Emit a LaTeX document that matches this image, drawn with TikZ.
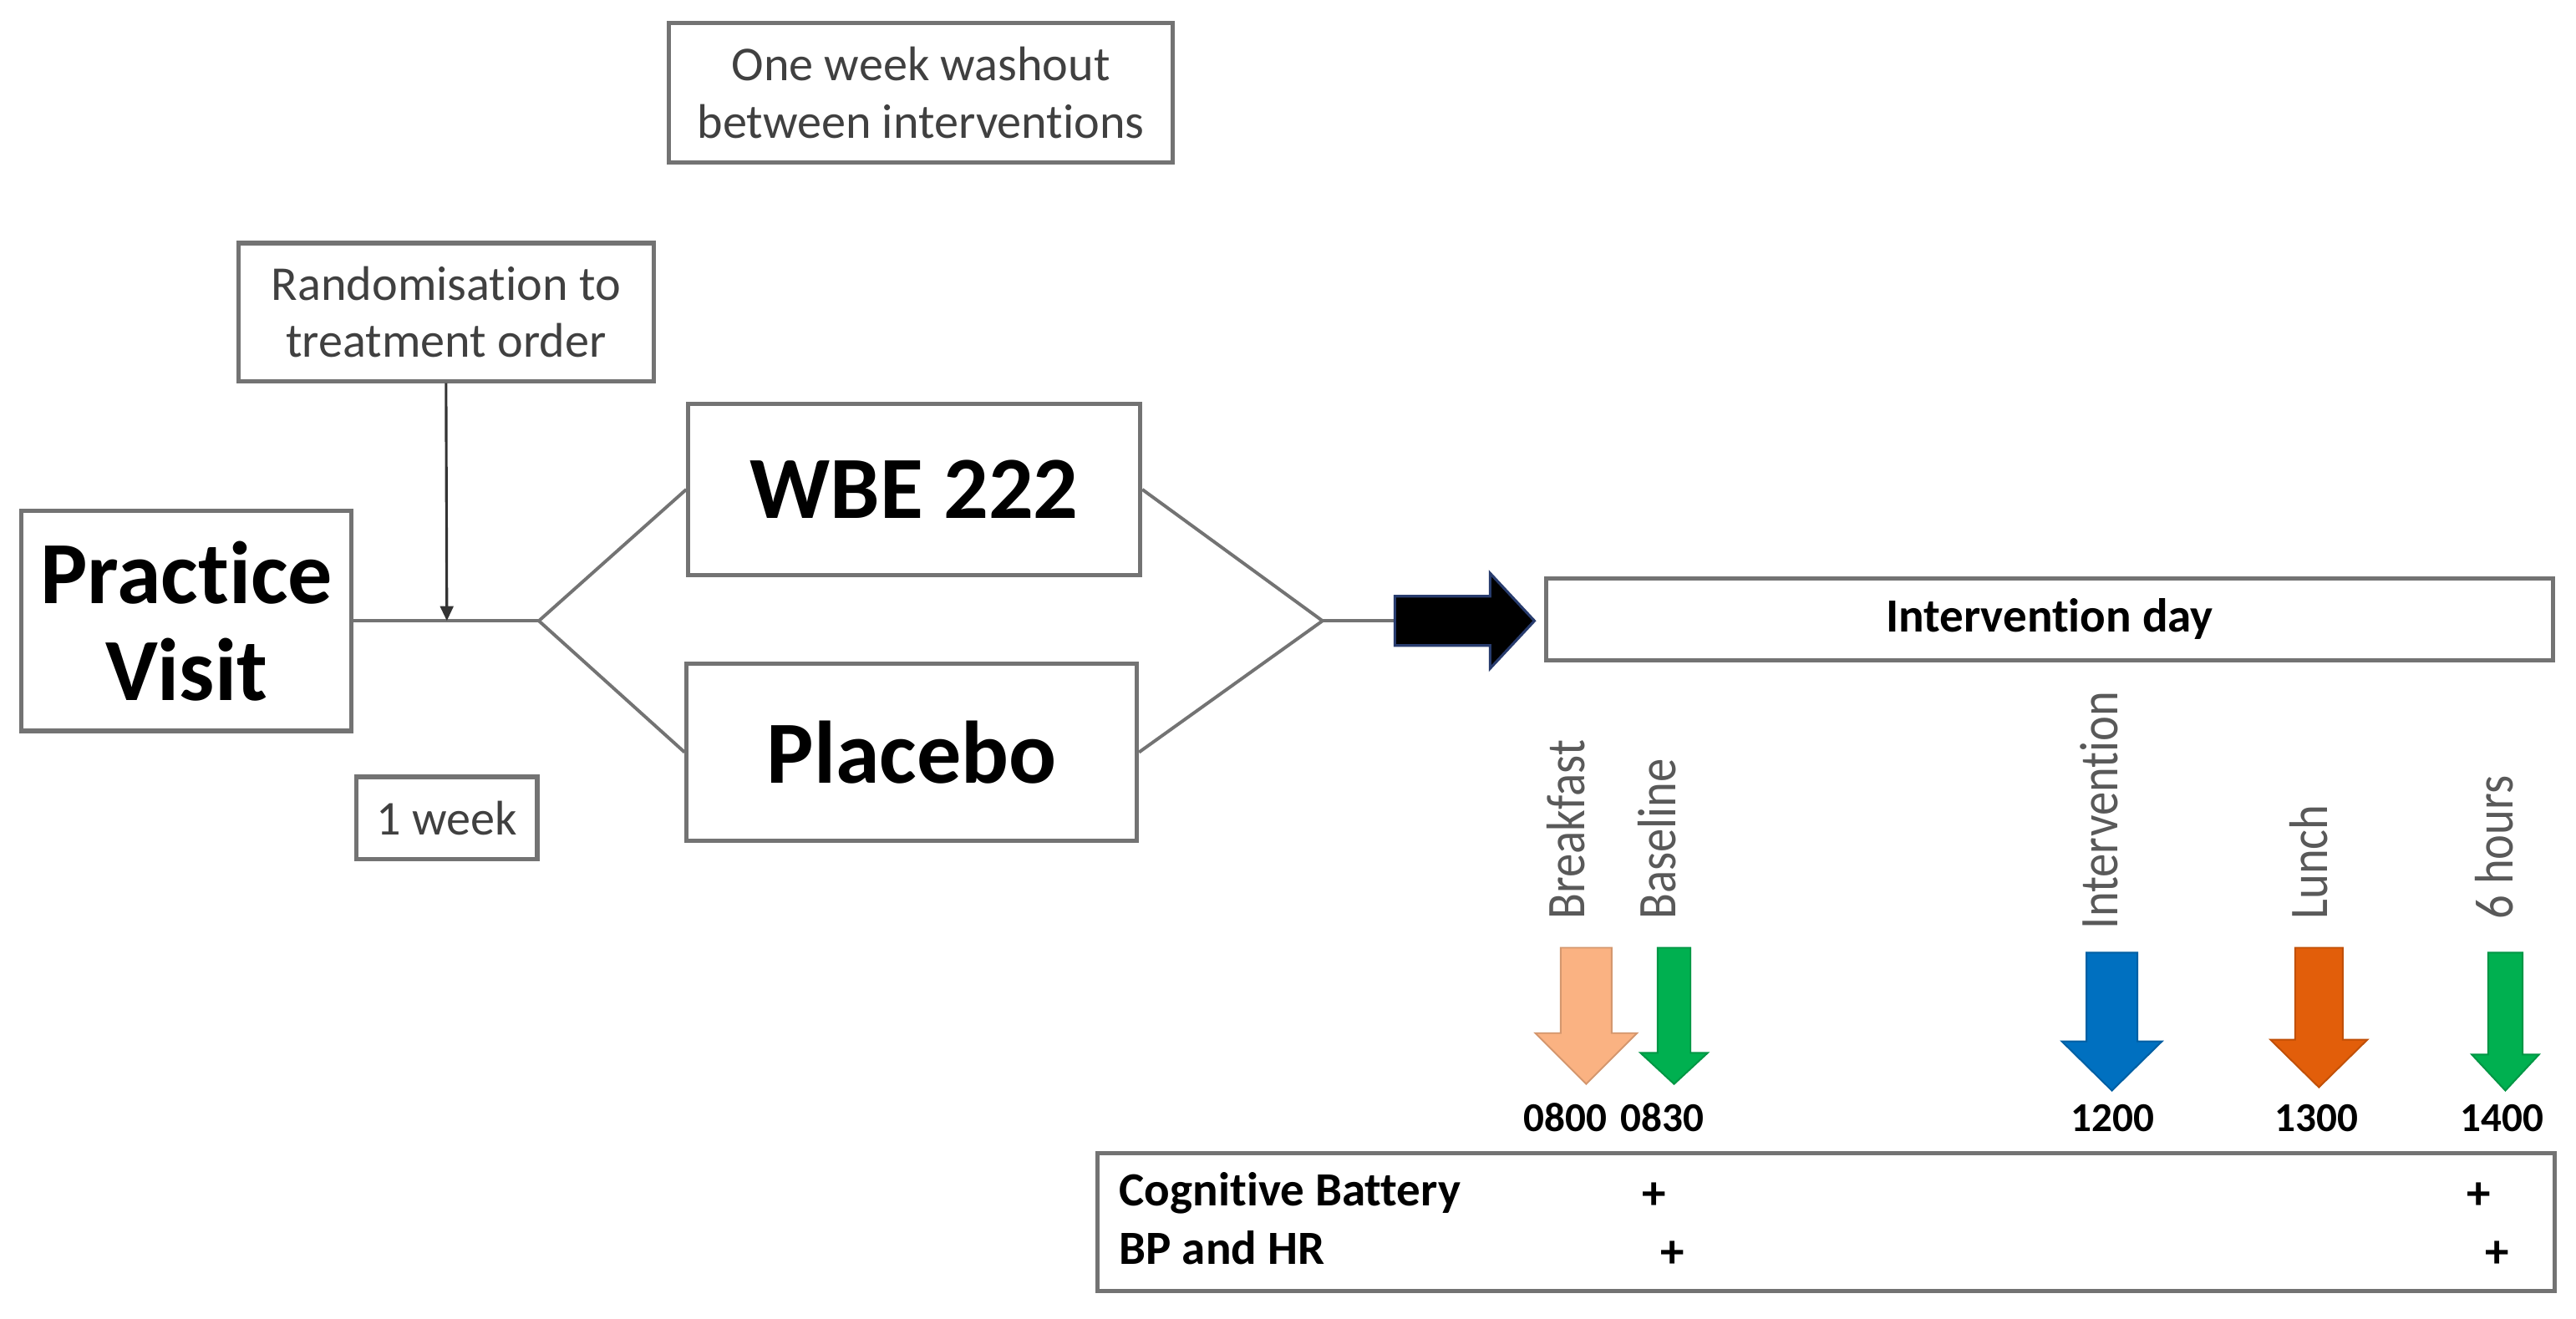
\documentclass[tikz,border=0pt]{standalone}
\usepackage{fontspec}
\setmainfont{Carlito}[Ligatures=NoCommon]
\usetikzlibrary{arrows.meta}
\definecolor{peach}{RGB}{250,178,130}
\definecolor{mygreen}{RGB}{0,176,80}
\definecolor{myblue}{RGB}{0,112,192}
\definecolor{myorange}{RGB}{226,94,10}
\definecolor{boxline}{RGB}{115,115,115}
\definecolor{txtgray}{RGB}{64,64,64}
\definecolor{lblgray}{RGB}{89,89,89}
\definecolor{arredge}{RGB}{40,60,110}
\tikzset{
  frame/.style={draw=boxline, line width=1.3pt, inner sep=0pt, align=center},
  conn/.style={draw=boxline, line width=1pt},
  smalltxt/.style={font=\fontsize{14.8}{17.5}\selectfont, text=txtgray},
  bigtxt/.style={font=\fontsize{27}{29.5}\selectfont\bfseries},
  vlabel/.style={rotate=90, anchor=mid west, font=\fontsize{14.4}{16}\selectfont, text=lblgray, inner sep=0pt},
  timetxt/.style={font=\fontsize{12.5}{14}\selectfont\bfseries, inner sep=0pt, anchor=base},
  rowtxt/.style={font=\fontsize{14.5}{16}\selectfont\bfseries, inner sep=0pt, anchor=base west},
  plustxt/.style={font=\fontsize{14.5}{16}\selectfont\bfseries, inner sep=0pt},
}
\newcommand{\vtxt}[1]{\scalebox{1}[1.15]{#1}}
\newcommand{\downblock}[7]{%
  \filldraw[fill=#7, draw=#7!85!black, line width=0.5pt]
    (#1-#2,#4) -- (#1+#2,#4) -- (#1+#2,#5) -- (#1+#3,#5) -- (#1,#6)
    -- (#1-#3,#5) -- (#1-#2,#5) -- cycle;}
\begin{document}
\begin{tikzpicture}[x=0.5pt,y=-0.5pt]
\useasboundingbox (0,0) rectangle (1568,803);
\fill[white] (0,0) rectangle (1568,803);

% boxes
\node[frame, smalltxt, minimum width=153.5pt, minimum height=42.5pt] (washout) at (560.5,56.5) {One week washout\\between interventions};
\node[frame, smalltxt, minimum width=126.5pt, minimum height=42pt] (rand) at (271.5,190) {Randomisation to\\treatment order};
\node[frame, bigtxt, minimum width=100.5pt, minimum height=67pt] (practice) at (113.5,378) {Practice\\Visit};
\node[frame, bigtxt, minimum width=137.5pt, minimum height=52pt] (wbe) at (556.5,298) {WBE 222};
\node[frame, bigtxt, minimum width=137pt, minimum height=54pt] (placebo) at (555,458) {Placebo};
\node[frame, smalltxt, minimum width=55pt, minimum height=25pt] (week) at (272,498) {1 week};
\node[frame, font=\fontsize{14.5}{16}\selectfont\bfseries, minimum width=306.5pt, minimum height=25pt] (day) at (1247.5,377) {Intervention day};
\node[frame, minimum width=443.5pt, minimum height=42pt] (table) at (1111.5,744) {};

% connectors
\coordinate (split) at (328,378);
\coordinate (rj) at (272,378);
\coordinate (join) at (805,378);
\coordinate (bastart) at (849,378);
\draw[conn] (practice.east) -- (split);
\draw[conn] (split) -- (wbe.west);
\draw[conn] (split) -- (placebo.west);
\draw[conn] (wbe.east) -- (join);
\draw[conn] (placebo.east) -- (join);
\draw[conn] (join) -- (bastart);
\draw[draw=black!80, line width=0.8pt, -{Triangle[length=4.5pt,width=4pt]}] (rand.south) -- (rj);

% block arrow
\filldraw[fill=black, draw=arredge, line width=0.8pt]
  (bastart) ++(0,-15) -- (907,363) -- (907,349) -- (934,378) -- (907,407) -- (907,393) -- (849,393) -- cycle;

% timeline labels
\node[vlabel] (lbreak) at (960,560) {\vtxt{Breakfast}};
\node[vlabel] (lbase) at (1015,560) {\vtxt{Baseline}};
\node[vlabel] (linterv) at (1284,566) {\vtxt{Intervention}};
\node[vlabel] (llunch) at (1412,560) {\vtxt{Lunch}};
\node[vlabel] (lsix) at (1525,560) {\vtxt{6 hours}};

% coloured down arrows
\downblock{965.5}{15.5}{31}{577}{629}{660}{peach}
\downblock{1019}{10}{20.5}{577}{641}{660}{mygreen}
\downblock{1285.5}{15.5}{30.5}{580}{634}{664}{myblue}
\downblock{1411.5}{14.5}{29.5}{577}{633}{662}{myorange}
\downblock{1525}{10.5}{20.5}{580}{642}{664}{mygreen}

% times
\node[timetxt] (t0800) at (953,689) {0800};
\node[timetxt] (t0830) at (1012,689) {0830};
\node[timetxt] (t1200) at (1286,689) {1200};
\node[timetxt] (t1300) at (1410,689) {1300};
\node[timetxt] (t1400) at (1523,689) {1400};

% table rows
\node[rowtxt] (rcog) at (681,734) {Cognitive Battery};
\node[rowtxt] (rbp) at (681,770) {BP and HR};
\node[plustxt] (p1) at (1007,728) {+};
\node[plustxt] (p2) at (1509,728) {+};
\node[plustxt] (p3) at (1018,764) {+};
\node[plustxt] (p4) at (1520,764) {+};
\end{tikzpicture}
\end{document}
